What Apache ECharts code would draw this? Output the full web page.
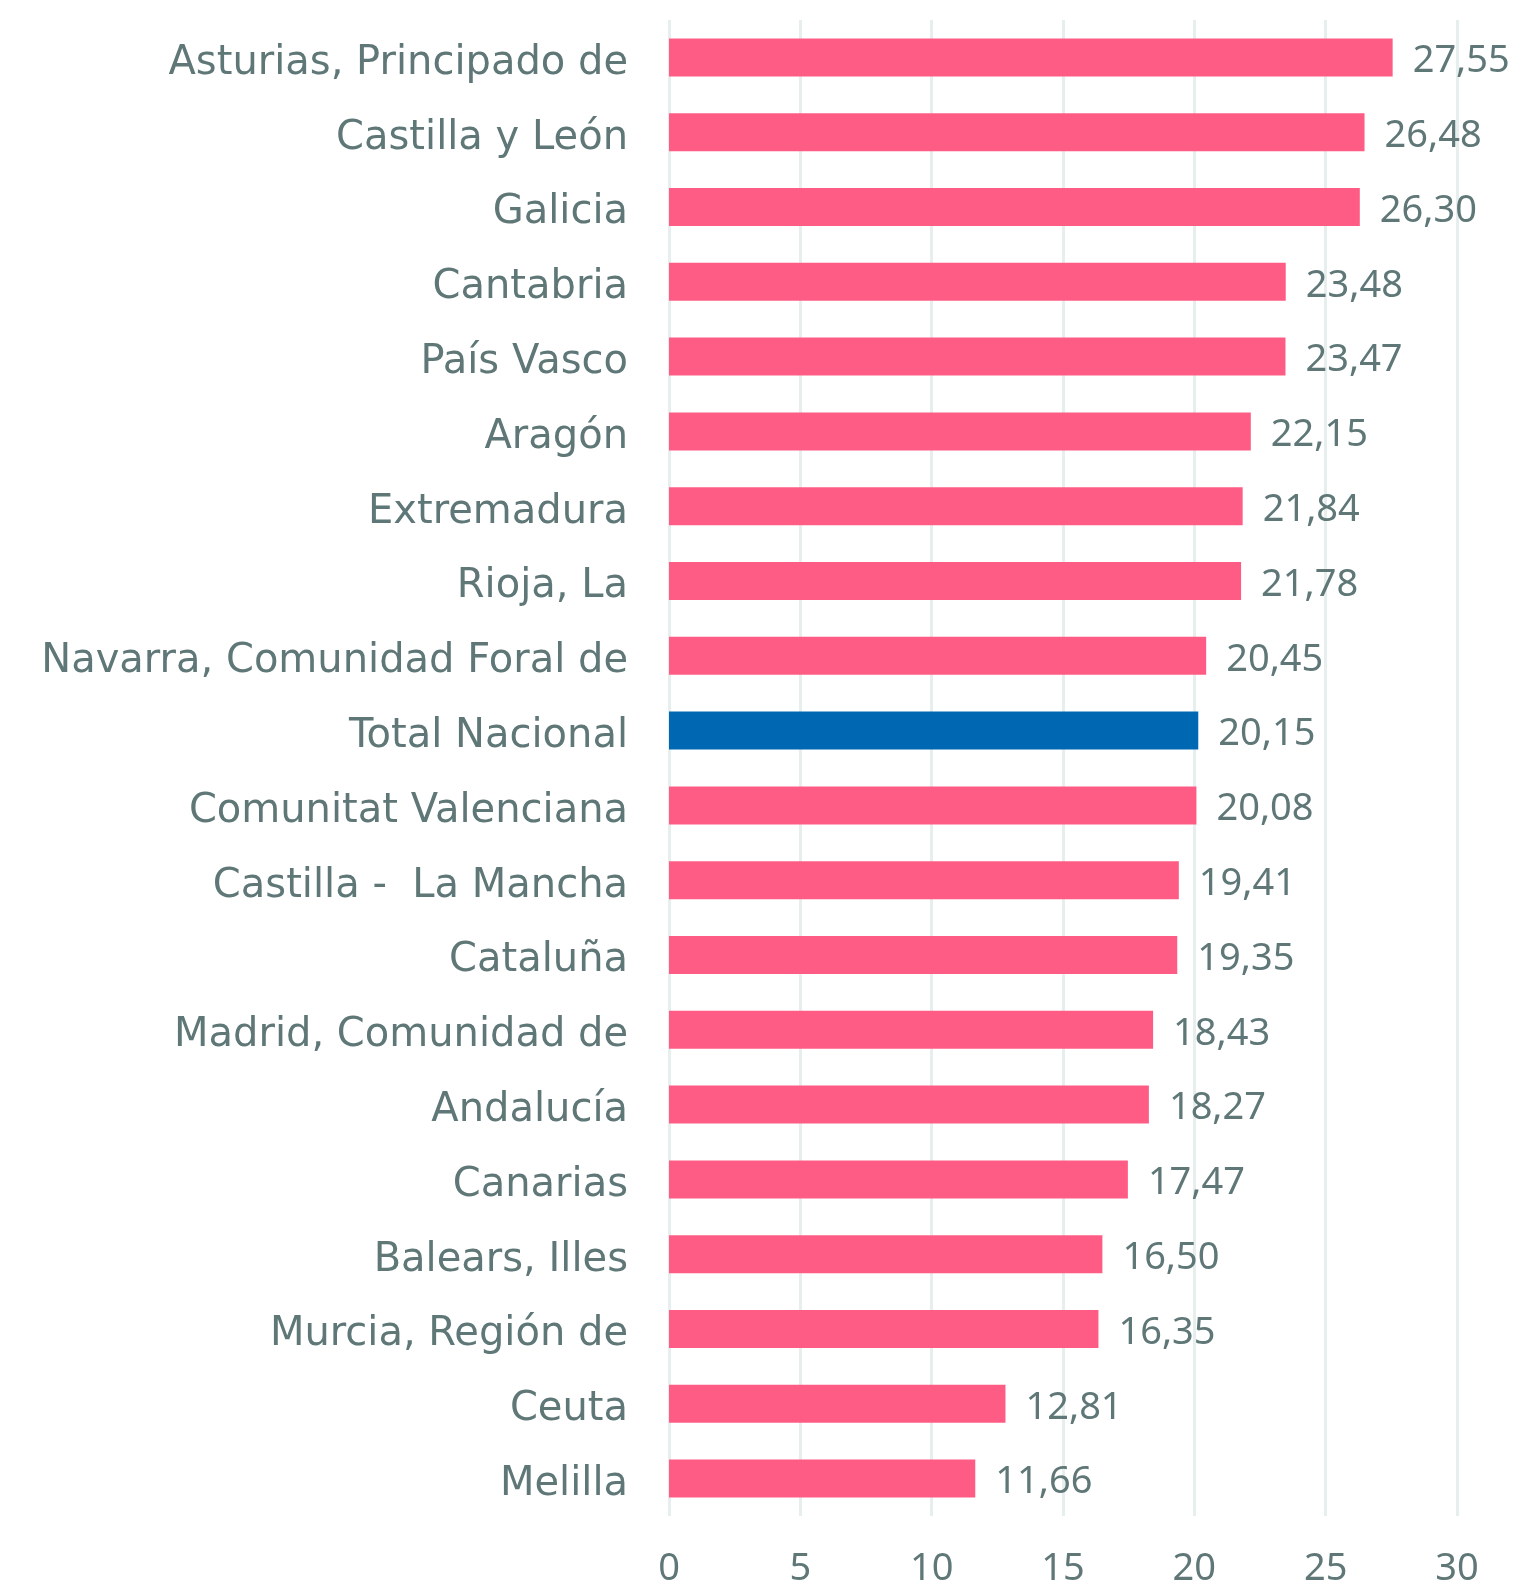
<!DOCTYPE html>
<html>
<head>
<meta charset="utf-8">
<script src="https://cdn.jsdelivr.net/npm/echarts@6/dist/echarts.min.js"></script>
<style>
  html, body { margin: 0; padding: 0; background: #ffffff; }
  #chart { width: 1517px; height: 1589px; }
</style>
</head>
<body>
<div id="chart"></div>
<script>
// datos por comunidad autónoma
const categories = [
  'Asturias, Principado de', 'Castilla y León', 'Galicia', 'Cantabria', 'País Vasco',
  'Aragón', 'Extremadura', 'Rioja, La', 'Navarra, Comunidad Foral de', 'Total Nacional',
  'Comunitat Valenciana', 'Castilla -  La Mancha', 'Cataluña', 'Madrid, Comunidad de',
  'Andalucía', 'Canarias', 'Balears, Illes', 'Murcia, Región de', 'Ceuta', 'Melilla'
];
const values = [
  27.55, 26.48, 26.30, 23.48, 23.47, 22.15, 21.84, 21.78, 20.45, 20.15,
  20.08, 19.41, 19.35, 18.43, 18.27, 17.47, 16.50, 16.35, 12.81, 11.66
];
const xTicks = [0, 5, 10, 15, 20, 25, 30];

const pink = '#FF5C85';
const blue = '#0068B2';
const textColor = '#5F7777';
const font = 'Noto Sans';

const chart = echarts.init(document.getElementById('chart'));

const option = {
  animation: false,
  grid: { left: 669, right: 60, top: 20, bottom: 73, containLabel: false },
  xAxis: {
    type: 'value',
    min: xTicks[0],
    max: xTicks[xTicks.length - 1],
    interval: 5,
    axisLine: { show: false },
    axisTick: { show: false },
    splitLine: { show: true, lineStyle: { color: '#E6EEEE', width: 3 } },
    axisLabel: { color: textColor, fontSize: 38, fontFamily: font, margin: 34 }
  },
  yAxis: {
    type: 'category',
    inverse: true,
    data: categories,
    axisLine: { show: false },
    axisTick: { show: false },
    // etiquetas un poco más anchas y bajadas unos px
    axisLabel: {
      margin: 41,
      formatter: v => '{a|' + v + '}',
      rich: {
        a: {
          color: textColor, fontSize: 40, fontFamily: 'DejaVu Sans',
          padding: [12, 0, 0, 0]
        }
      }
    }
  },
  series: [{
    type: 'bar',
    barWidth: 38,
    data: values.map((v, i) => ({
      value: v,
      itemStyle: { color: categories[i] === 'Total Nacional' ? blue : pink }
    })),
    label: {
      show: true,
      position: 'right',
      distance: 20,
      offset: [0, 4],
      color: textColor,
      fontSize: 38,
      fontFamily: font,
      formatter: p => p.value.toFixed(2).replace('.', ',')
    }
  }]
};

chart.setOption(option);
</script>
</body>
</html>
